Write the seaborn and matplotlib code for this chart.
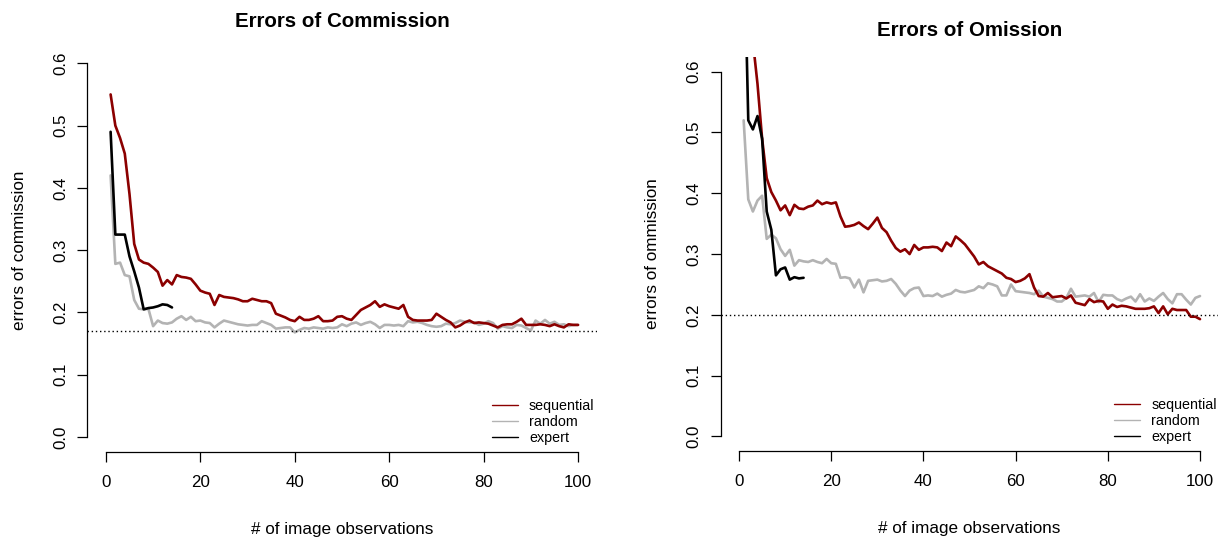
import numpy as np
import pandas as pd
import matplotlib
matplotlib.use("Agg")
import matplotlib.pyplot as plt
from matplotlib.lines import Line2D
import seaborn as sns

# -----------------------------------------------------------------------------
# datos
# -----------------------------------------------------------------------------
obs = list(range(1, 101))
obs_expert = list(range(1, 15))

com_sequential = [
    0.55, 0.50, 0.48, 0.455, 0.39, 0.31, 0.285, 0.28, 0.278, 0.272,
    0.265, 0.243, 0.252, 0.245, 0.26, 0.257, 0.256, 0.254, 0.245, 0.235,
    0.232, 0.23, 0.212, 0.228, 0.225, 0.224, 0.223, 0.221, 0.218, 0.218,
    0.222, 0.22, 0.218, 0.218, 0.215, 0.198, 0.195, 0.192, 0.188, 0.186,
    0.193, 0.188, 0.188, 0.19, 0.194, 0.186, 0.186, 0.187, 0.193, 0.194,
    0.19, 0.188, 0.196, 0.204, 0.208, 0.212, 0.218, 0.209, 0.213, 0.21,
    0.208, 0.206, 0.212, 0.193, 0.188, 0.187, 0.187, 0.187, 0.188, 0.198,
    0.193, 0.188, 0.184, 0.176, 0.179, 0.184, 0.187, 0.183, 0.184, 0.183,
    0.182, 0.179, 0.176, 0.18, 0.181, 0.181, 0.185, 0.19, 0.18, 0.18,
    0.18, 0.181, 0.18, 0.178, 0.181, 0.178, 0.176, 0.181, 0.18, 0.18,
]
com_random = [
    0.42, 0.278, 0.28, 0.26, 0.258, 0.22, 0.206, 0.205, 0.206, 0.178,
    0.187, 0.183, 0.182, 0.184, 0.19, 0.194, 0.188, 0.193, 0.186, 0.187,
    0.184, 0.183, 0.176, 0.182, 0.187, 0.185, 0.183, 0.181, 0.18, 0.179,
    0.18, 0.18, 0.186, 0.183, 0.18, 0.174, 0.175, 0.176, 0.176, 0.168,
    0.172, 0.175, 0.174, 0.176, 0.175, 0.174, 0.176, 0.175, 0.176, 0.181,
    0.178, 0.182, 0.184, 0.18, 0.183, 0.185, 0.181, 0.175, 0.18, 0.18,
    0.179, 0.18, 0.178, 0.186, 0.184, 0.185, 0.183, 0.18, 0.178, 0.177,
    0.178, 0.182, 0.181, 0.183, 0.187, 0.185, 0.184, 0.184, 0.18, 0.182,
    0.186, 0.183, 0.174, 0.178, 0.176, 0.175, 0.18, 0.179, 0.175, 0.171,
    0.187, 0.182, 0.188, 0.182, 0.185, 0.18, 0.181, 0.178, 0.18, 0.18,
]
com_expert = [0.49, 0.325, 0.325, 0.325, 0.29, 0.266, 0.24, 0.205, 0.207, 0.208,
              0.21, 0.213, 0.212, 0.208]

om_sequential = [
    0.8, 0.7, 0.65, 0.58, 0.49, 0.425, 0.402, 0.388, 0.372, 0.38,
    0.364, 0.381, 0.375, 0.374, 0.378, 0.38, 0.388, 0.382, 0.385, 0.383,
    0.385, 0.362, 0.345, 0.346, 0.348, 0.352, 0.346, 0.341, 0.35, 0.36,
    0.343, 0.336, 0.322, 0.31, 0.304, 0.308, 0.3, 0.315, 0.307, 0.311,
    0.311, 0.312, 0.311, 0.305, 0.319, 0.313, 0.329, 0.323, 0.316, 0.306,
    0.296, 0.283, 0.287, 0.28, 0.276, 0.272, 0.268, 0.261, 0.259, 0.254,
    0.256, 0.26, 0.267, 0.245, 0.231, 0.23, 0.236, 0.229, 0.23, 0.231,
    0.227, 0.232, 0.22, 0.218, 0.216, 0.226, 0.221, 0.223, 0.222, 0.21,
    0.217, 0.213, 0.215, 0.214, 0.212, 0.21, 0.21, 0.21, 0.211, 0.214,
    0.203, 0.214, 0.201, 0.21, 0.208, 0.208, 0.208, 0.197, 0.197, 0.193,
]
om_random = [
    0.52, 0.39, 0.37, 0.388, 0.396, 0.325, 0.332, 0.326, 0.308, 0.297,
    0.307, 0.281, 0.29, 0.288, 0.287, 0.29, 0.287, 0.285, 0.292, 0.285,
    0.284, 0.261, 0.262, 0.26, 0.245, 0.258, 0.237, 0.256, 0.257, 0.258,
    0.255, 0.256, 0.259, 0.251, 0.24, 0.231, 0.24, 0.244, 0.245, 0.231,
    0.232, 0.231, 0.235, 0.23, 0.233, 0.235, 0.241, 0.238, 0.237, 0.239,
    0.241, 0.247, 0.244, 0.252, 0.25, 0.247, 0.232, 0.232, 0.25, 0.239,
    0.238, 0.237, 0.236, 0.234, 0.24, 0.23, 0.228, 0.226, 0.222, 0.222,
    0.228, 0.243, 0.23, 0.231, 0.232, 0.23, 0.236, 0.221, 0.233, 0.232,
    0.232, 0.226, 0.223, 0.227, 0.23, 0.222, 0.234, 0.222, 0.227, 0.223,
    0.23, 0.236, 0.226, 0.219, 0.234, 0.234, 0.225, 0.217, 0.228, 0.231,
]
om_expert = [0.85, 0.52, 0.505, 0.527, 0.49, 0.37, 0.34, 0.265, 0.275, 0.278,
             0.258, 0.262, 0.26, 0.261]

com_ref = 0.17
om_ref = 0.2

series_names = ["sequential", "random", "expert"]
colores = {"sequential": "#8B0000", "random": "#B3B3B3", "expert": "#000000"}

# -----------------------------------------------------------------------------
# figura
# -----------------------------------------------------------------------------
sns.set_theme(style="white")
plt.rcParams["font.family"] = ["Liberation Sans", "DejaVu Sans"]
plt.rcParams["text.color"] = "black"
plt.rcParams["axes.labelcolor"] = "black"
plt.rcParams["xtick.color"] = "black"
plt.rcParams["ytick.color"] = "black"

fig = plt.figure(figsize=(12.22, 5.37), dpi=100)
ax_c = fig.add_axes([0.0712, 0.1583, 0.4173, 0.7517])
ax_o = fig.add_axes([0.5897, 0.1600, 0.4074, 0.7337])

paneles = [
    (ax_c, com_sequential, com_random, com_expert, com_ref,
     "Errors of Commission", "errors of commission", 1.012),
    (ax_o, om_sequential, om_random, om_expert, om_ref,
     "Errors of Omission", "errors of ommission", 1.014),
]

for ax, seq, rnd, exp_, ref, titulo, ylab, leg_x in paneles:
    sns.lineplot(x=obs, y=rnd, color=colores["random"], lw=1.9, ax=ax)
    sns.lineplot(x=obs, y=seq, color=colores["sequential"], lw=1.9, ax=ax)
    sns.lineplot(x=obs_expert, y=exp_, color=colores["expert"], lw=1.9, ax=ax)
    ax.axhline(ref, color="black", lw=1, linestyle=(0, (1, 2)))

    ax.set_xlim(-4, 104)
    ax.set_ylim(-0.024, 0.624)
    ax.set_xticks([0, 20, 40, 60, 80, 100])
    ax.set_yticks([0.0, 0.1, 0.2, 0.3, 0.4, 0.5, 0.6])
    ax.set_yticklabels(["0.0", "0.1", "0.2", "0.3", "0.4", "0.5", "0.6"],
                       rotation=90, va="center")

    # ejes estilo R
    for s in ["top", "right"]:
        ax.spines[s].set_visible(False)
    ax.spines["left"].set_bounds(0, 0.6)
    ax.spines["bottom"].set_bounds(0, 100)
    for s in ["left", "bottom"]:
        ax.spines[s].set_color("black")
        ax.spines[s].set_linewidth(0.9)
    ax.tick_params(axis="both", which="both", direction="out", length=7.5,
                   width=0.9, color="black", labelsize=12.2, left=True,
                   bottom=True)
    ax.tick_params(axis="x", pad=9)
    ax.tick_params(axis="y", pad=6)

    ax.set_title(titulo, fontsize=14.8, fontweight="bold", pad=15.5)
    ax.set_xlabel("# of image observations", fontsize=12.3, labelpad=23)
    ax.set_ylabel(ylab, fontsize=12.3, labelpad=19)

    handles = [Line2D([0], [0], color=colores[n], lw=1) for n in series_names]
    ax.legend(handles, series_names, loc="lower right", frameon=False,
              fontsize=10.3, handlelength=1.8, handletextpad=0.8,
              labelspacing=0.15, borderaxespad=0.2,
              bbox_to_anchor=(leg_x, -0.005))

fig.savefig("out.png", dpi=100)
